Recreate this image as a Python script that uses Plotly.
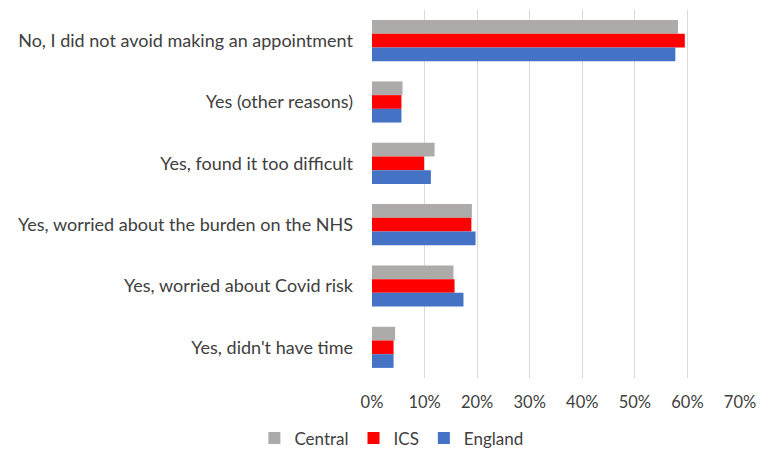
import plotly.graph_objects as go

categories = [
    "No, I did not avoid making an appointment",
    "Yes (other reasons)",
    "Yes, found it too difficult",
    "Yes, worried about the burden on the NHS",
    "Yes, worried about Covid risk",
    "Yes, didn't have time",
]
central = [0.582, 0.058, 0.119, 0.190, 0.155, 0.044]
ics = [0.595, 0.056, 0.099, 0.189, 0.157, 0.041]
england = [0.577, 0.056, 0.112, 0.197, 0.174, 0.041]
x_ticks = [0, 0.1, 0.2, 0.3, 0.4, 0.5, 0.6, 0.7]
x_tick_labels = ["0%", "10%", "20%", "30%", "40%", "50%", "60%", "70%"]

series = [("Central", central, "#ADAAAA"), ("ICS", ics, "#FF0000"), ("England", england, "#4472C4")]

fig = go.Figure()
for name, vals, color in series:
    fig.add_trace(go.Bar(
        y=categories, x=vals, name=name, orientation="h",
        marker=dict(color=color, line=dict(width=0)),
    ))

font_family = "Lato, Open Sans, sans-serif"
fig.update_layout(
    width=775, height=452,
    margin=dict(l=372, r=35, t=10, b=74, autoexpand=False),
    barmode="group", bargap=0.33, bargroupgap=0,
    plot_bgcolor="white", paper_bgcolor="white",
    font=dict(family=font_family, size=16.5, color="#404040"),
    showlegend=True,
    legend=dict(orientation="h", xref="container", yref="container",
                x=0.505, xanchor="center", y=0.03, yanchor="middle",
                font=dict(size=17, color="#404040"), traceorder="normal",
                itemwidth=30),
    xaxis=dict(range=[0, 0.7], tickvals=x_ticks, ticktext=x_tick_labels,
               showgrid=True, gridcolor="#D9D9D9", gridwidth=1,
               zeroline=False, showline=False, ticks="",
               tickfont=dict(size=16.5, color="#404040"), ticklabelstandoff=12),
    yaxis=dict(autorange="reversed", showgrid=False, zeroline=False,
               showline=False, ticks="", ticklabelstandoff=18,
               tickfont=dict(size=18, color="#404040")),
)
fig.write_html("out.html", config={"displayModeBar": False},
               post_script="document.body.style.margin='0';")
